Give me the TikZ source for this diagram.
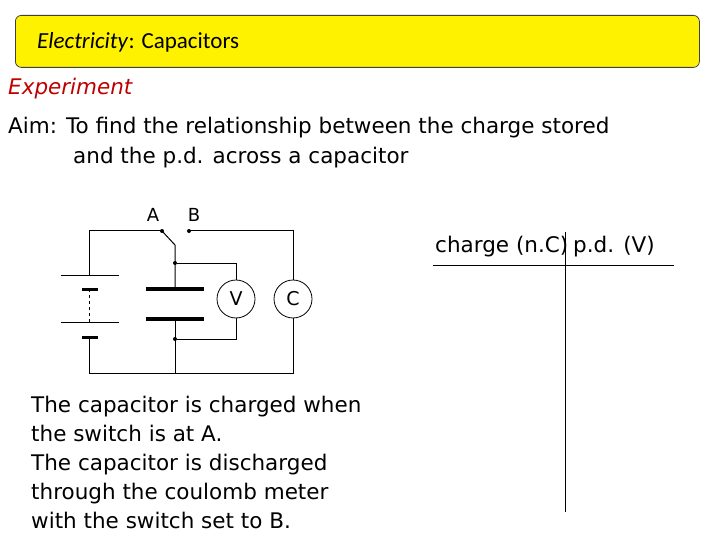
\documentclass[tikz,border=0pt]{standalone}
\usepackage{fontspec}
\setmainfont{DejaVu Sans}
\newfontfamily\titlefont{Carlito}
\begin{document}
\begin{tikzpicture}[x=1pt,y=-1pt,
  txt/.style={anchor=west,inner sep=0pt,text height=16pt,text depth=5pt,font=\fontsize{21.5}{24}\selectfont},
  wire/.style={line width=1pt},
  plate/.style={line width=4pt},
  meter/.style={circle,draw,line width=0.8pt,minimum size=38pt,inner sep=0pt,font=\fontsize{19}{22}\selectfont},
  dot/.style={circle,fill,inner sep=0pt,minimum size=4pt}]
\useasboundingbox (0,0) rectangle (720,540);
\node[draw=black!75,line width=0.8pt,fill=yellow,rounded corners=6pt,minimum width=684pt,minimum height=52pt,anchor=north west] (hdr) at (15,15) {};
\node[anchor=west,inner sep=0pt,font=\titlefont\fontsize{23}{26}\selectfont] (title) at (37,42) {\textit{Electricity}: Capacitors};
\node[txt,text=red!75!black,font=\fontsize{21.5}{24}\selectfont\itshape] (exp) at (8,89) {Experiment};
\node[txt] (aim1) at (8,128) {Aim: To find the relationship between the charge stored};
\node[txt] (aim2) at (73,158) {and the p.d. across a capacitor};
\node[font=\fontsize{18}{21}\selectfont] (la) at (153,215) {A};
\node[font=\fontsize{18}{21}\selectfont] (lb) at (194,215) {B};
% circuit
\node[dot] (a) at (162,231) {};
\node[dot] (b) at (189,231) {};
\coordinate (tl) at (89,231);
\coordinate (tr) at (293,231);
\coordinate (bl) at (89,373);
\coordinate (br) at (293,373);
\coordinate (bm) at (175,373);
\coordinate (sw) at (175,245);
\node[dot] (j1) at (175,263) {};
\node[dot] (j2) at (175,339) {};
\coordinate (p1) at (175,289);
\coordinate (p2) at (175,319);
\node[meter] (V) at (236,299) {V};
\node[meter] (C) at (293,299) {C};
\draw[wire] (a.center) -| (tl) -- (89,275);
\draw[wire] (b.center) -- (tr) -- (C.north);
\draw[wire] (C.south) -- (br) -- (bl) -- (89,337);
\draw[wire] (a.center) -- (sw) -- (p1);
\draw[wire] (p2) -- (bm);
\draw[wire] (j1) -| (V.north);
\draw[wire] (j2) -| (V.south);
\draw[plate] (146,289) -- (204,289);
\draw[plate] (146,319) -- (204,319);
% battery
\draw[line width=0.8pt] (61,275) -- (119,275);
\draw[line width=0.8pt] (61,322) -- (119,322);
\draw[line width=3pt] (82,289) -- (98,289);
\draw[line width=3pt] (82,337) -- (98,337);
\draw[line width=0.6pt,dashed] (89,289) -- (89,322);
% table
\node[txt] (ch) at (435,247) {charge (n.C)};
\node[txt] (pd) at (573,247) {p.d. (V)};
\draw[line width=1pt] (433,265) -- (674,265);
\draw[line width=1pt] (565,232) -- (565,512);
% text
\node[txt] (t1) at (31,407) {The capacitor is charged when};
\node[txt] (t2) at (31,436) {the switch is at A.};
\node[txt] (t3) at (31,465) {The capacitor is discharged};
\node[txt] (t4) at (31,494) {through the coulomb meter};
\node[txt] (t5) at (31,523) {with the switch set to B.};
\end{tikzpicture}
\end{document}
